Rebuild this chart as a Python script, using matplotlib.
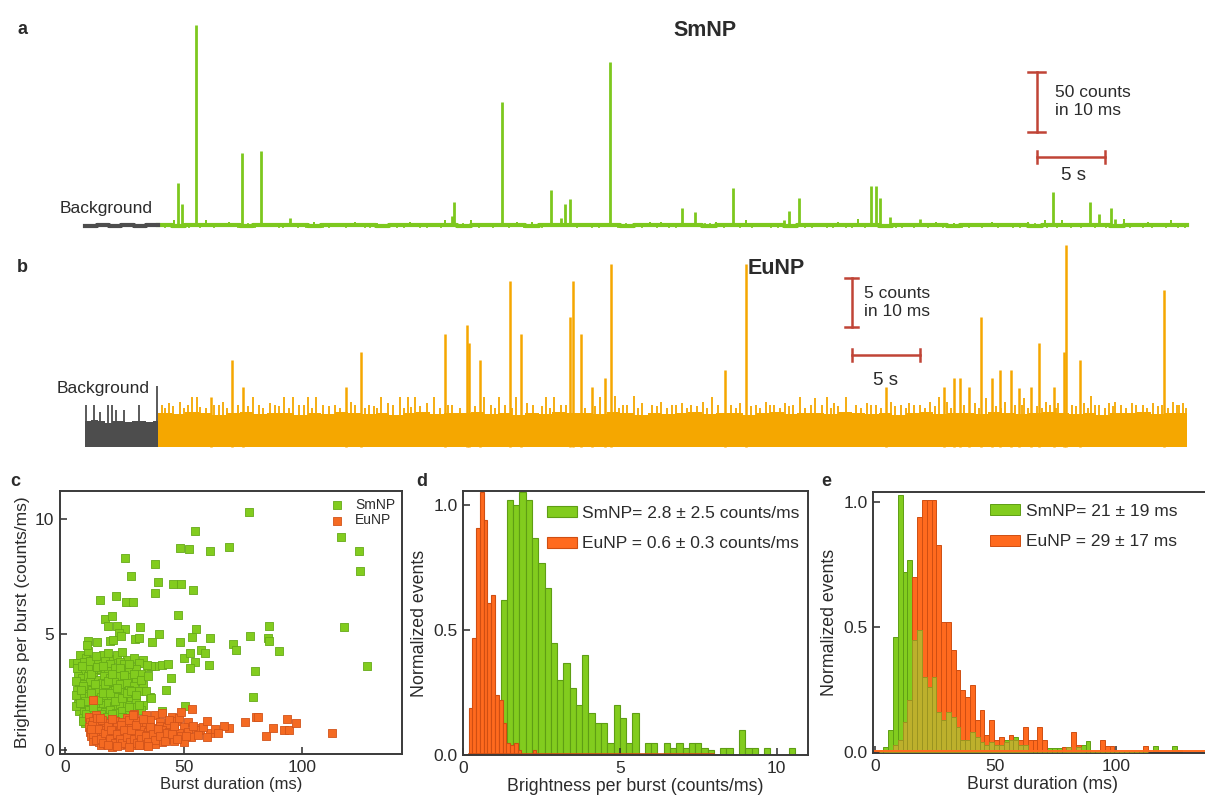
import matplotlib.pyplot as plt
import numpy as np

plt.rcParams['font.family'] = ['Liberation Sans', 'DejaVu Sans']
plt.rcParams['text.color'] = '#2b2b2b'
plt.rcParams['axes.labelcolor'] = '#2b2b2b'
plt.rcParams['xtick.color'] = '#2b2b2b'
plt.rcParams['ytick.color'] = '#2b2b2b'

TR_GREEN = '#7dc81e'
TR_ORANGE = '#f5a700'
BG_GRAY = '#4d4d4d'
BAR_RED = '#c04436'
SM = '#82cc1e'
SM_EDGE = '#5e9e14'
EU = '#ff6a1e'
EU_EDGE = '#cf4e12'
OLIVE = '#bdb02c'
OLIVE_EDGE = '#9a9420'

# ---------------- data ----------------
# a: SmNP trace, time (s) vs counts per 10 ms
sm_bg_t = [-5.4, -4.5, -3.6, -2.7, -1.8, -0.9, 0.0]
sm_bg_c = [3.5, 4, 3.5, 4, 3.5, 4, 4]
sm_base_t = list(range(0, 76)) + [75.7]
sm_base_c = [4, 3.5, 4, 4.5, 4, 4, 3.5, 4, 4.5, 4, 4, 3.5, 4, 4, 4.5, 4, 3.5, 4, 4, 4.5,
             4, 4, 3.5, 4.5, 4, 4, 4, 3.5, 4, 4.5, 4, 4, 4.5, 4, 3.5, 4, 4, 4, 4.5, 4,
             3.5, 4, 4, 4.5, 4, 4, 3.5, 4, 4, 4.5, 4, 4, 4, 3.5, 4.5, 4, 4, 4, 3.5, 4,
             4, 4.5, 4, 4, 3.5, 4, 4, 4.5, 4, 4, 3.5, 4, 4, 4.5, 4, 4, 4]
sm_peaks = [(1.47, 39), (1.75, 22), (2.8, 171), (6.2, 64), (7.6, 66), (9.7, 10),
            (21.6, 12), (21.8, 23), (25.3, 107), (28.9, 33), (29.6, 10), (29.9, 22),
            (30.3, 26), (33.2, 140), (38.5, 18), (39.5, 15), (42.3, 35), (46.0, 8),
            (46.4, 16), (47.1, 27), (52.4, 37), (52.8, 37), (53.1, 27), (53.8, 11),
            (56.0, 9), (65.8, 32), (68.5, 23), (69.2, 13), (70.1, 18), (70.4, 9),
            (72.2, 6)]
sm_small = [(0.8, 6), (1.2, 8), (3.5, 8), (4.5, 6), (5.2, 7), (8.4, 6), (11.5, 7),
            (13.2, 6), (14.5, 7), (16.1, 6), (17.0, 6), (18.5, 7), (20.3, 6), (21.1, 8),
            (23.0, 8), (24.0, 6), (26.4, 7), (27.5, 7), (31.5, 6), (35.0, 6), (36.2, 7),
            (37.0, 7), (41.0, 7), (43.2, 8), (44.5, 6), (48.5, 6), (50.0, 7), (51.5, 9),
            (55.0, 6), (57.2, 7), (58.5, 6), (60.0, 6), (61.3, 7), (62.5, 6), (64.0, 7),
            (65.2, 8), (66.5, 8), (67.5, 6), (71.0, 9), (72.8, 7), (73.5, 6), (74.5, 8)]
sm_fuzz = [(0.5, 5.5), (1.9, 6), (2.3, 5.5), (3.1, 6), (4.1, 5.5), (5.9, 6), (6.6, 5.5),
           (7.1, 6), (8.9, 5.5), (9.2, 6), (10.3, 5.5), (10.9, 6), (12.1, 5.5), (12.6, 6),
           (13.8, 5.5), (15.2, 6), (15.6, 5.5), (17.6, 6), (18.1, 5.5), (19.3, 6), (19.8, 5.5),
           (20.8, 6), (22.4, 5.5), (23.6, 6), (24.6, 5.5), (25.8, 6), (26.9, 5.5), (28.2, 6),
           (30.8, 5.5), (31.9, 6), (32.4, 5.5), (33.8, 6), (34.4, 5.5), (35.6, 6), (36.7, 5.5),
           (37.6, 6), (38.1, 5.5), (40.2, 6), (40.6, 5.5), (41.6, 6), (42.8, 5.5), (43.7, 6),
           (45.1, 5.5), (45.6, 6), (47.6, 5.5), (48.1, 6), (49.2, 5.5), (49.6, 6), (50.6, 5.5),
           (51.0, 6), (52.0, 5.5), (54.3, 6), (54.7, 5.5), (55.6, 6), (56.6, 5.5), (57.7, 6),
           (59.1, 5.5), (59.6, 6), (60.6, 5.5), (61.8, 6), (62.9, 5.5), (63.4, 6), (64.5, 5.5),
           (65.4, 6), (66.1, 5.5), (67.1, 6), (67.9, 5.5), (68.9, 6), (69.7, 5.5), (71.5, 6),
           (72.4, 5.5), (73.1, 6), (74.1, 5.5), (75.0, 6), (75.5, 5.5)]

# b: EuNP trace
eu_bg_t = [-5.4, -4.9, -4.4, -3.9, -3.4, -2.9, -2.4, -1.9, -1.4, -0.9, -0.4, 0.0]
eu_bg_c = [2.6, 2.8, 2.6, 2.4, 2.6, 2.7, 2.5, 2.6, 2.6, 2.5, 2.6, 2.6]
eu_bg_spikes = [(-5.3, 4.3), (-4.7, 4.3), (-4.3, 3.6), (-3.7, 4.3), (-3.4, 4.3),
                (-3.1, 3.8), (-2.5, 3.8), (-1.4, 4.3), (-0.1, 6.2)]
eu_band_t = list(range(0, 76)) + [75.7]
eu_band_c = [3.5, 3.4, 3.6, 3.5, 3.3, 3.5, 3.6, 3.4, 3.5, 3.5, 3.3, 3.5, 3.4, 3.6,
             3.5, 3.4, 3.5, 3.3, 3.5, 3.6, 3.4, 3.5, 3.5, 3.6, 3.4, 3.5, 3.3, 3.5,
             3.4, 3.6, 3.5, 3.5, 3.4, 3.6, 3.5, 3.3, 3.5, 3.4, 3.5, 3.6, 3.4, 3.5,
             3.5, 3.3, 3.5, 3.6, 3.4, 3.5, 3.5, 3.4, 3.6, 3.5, 3.4, 3.5, 3.3, 3.5,
             3.6, 3.4, 3.5, 3.5, 3.4, 3.6, 3.5, 3.4, 3.5, 3.6, 3.5, 3.4, 3.5, 3.3,
             3.5, 3.5, 3.6, 3.4, 3.5, 3.5, 3.5]
eu_peaks = [(5.43, 8.9), (6.25, 6.15), (3.88, 5.1), (14.96, 9.7), (13.8, 6.15),
            (21.1, 11.5), (22.7, 12.4), (22.9, 10.6), (23.7, 8.9), (25.9, 16.9),
            (26.7, 11.5), (30.3, 13.3), (30.5, 16.9), (31.1, 11.5), (31.9, 6.1),
            (32.9, 7.0), (33.3, 18.7), (41.7, 7.9), (43.2, 18.7), (53.5, 6.15),
            (57.8, 6.1), (58.5, 7.0), (59.0, 7.0), (59.6, 6.1), (60.5, 13.3),
            (61.3, 7.0), (61.9, 7.9), (62.7, 7.9), (63.3, 6.0), (64.2, 6.1),
            (64.8, 10.6), (65.9, 6.15), (66.6, 9.7), (66.8, 20.6), (67.8, 8.9),
            (74.0, 16.0)]
eu_comb = [(0.3, 4.3), (0.8, 4.5), (1.6, 4.6), (2.5, 5.1), (2.9, 5.1), (4.5, 4.3),
           (4.8, 4.6), (5.9, 4.3), (7.0, 5.1), (7.4, 4.3), (8.2, 4.5), (8.6, 4.3),
           (9.3, 5.1), (9.9, 5.1), (10.4, 4.3), (11.0, 5.1), (11.6, 5.1), (12.1, 4.3),
           (13.0, 4.3), (14.2, 4.6), (15.5, 4.3), (16.4, 5.1), (16.9, 4.5), (17.8, 5.1),
           (18.4, 5.1), (18.9, 5.1), (19.8, 4.5), (20.3, 5.1), (21.6, 4.3), (24.0, 5.1),
           (24.5, 4.3), (25.1, 5.1), (26.3, 5.1), (27.1, 4.5), (27.6, 4.3), (28.5, 5.1),
           (29.1, 5.1), (29.6, 4.3), (32.5, 5.1), (33.6, 5.2), (34.5, 4.3), (35.0, 5.2),
           (35.6, 4.5), (36.3, 4.3), (37.0, 4.6), (37.8, 4.3), (38.5, 4.5), (39.2, 4.3),
           (40.1, 4.6), (40.7, 5.1), (42.1, 4.3), (42.8, 4.5), (44.0, 4.3), (44.7, 4.6),
           (45.3, 4.3), (46.1, 4.5), (46.7, 4.3), (47.2, 5.1), (48.3, 5.0), (48.8, 4.3),
           (49.2, 5.1), (49.7, 4.5), (50.6, 5.1), (51.3, 4.3), (52.1, 4.5), (52.8, 4.3),
           (53.9, 4.6), (54.6, 4.3), (55.2, 4.5), (56.0, 4.3), (56.8, 4.6), (57.4, 5.1),
           (58.0, 4.6), (60.1, 4.5), (60.9, 5.0), (62.3, 4.6), (63.0, 4.3), (63.7, 5.0),
           (65.3, 4.6), (66.2, 4.5), (67.2, 4.3), (68.1, 4.5), (68.6, 5.2), (69.2, 4.3),
           (69.9, 4.5), (70.4, 4.6), (70.8, 4.3), (71.6, 4.5), (72.4, 4.3), (73.2, 4.5),
           (73.8, 4.3), (74.6, 4.6), (74.9, 4.3), (75.4, 4.5)]
eu_comb2 = [(0.5, 4.0), (1.1, 4.2), (1.9, 4.0), (2.2, 4.3), (3.1, 4.1), (3.5, 4.0), (4.1, 4.3),
            (5.1, 4.0), (6.6, 4.2), (7.7, 4.0), (8.9, 4.2), (9.6, 4.0), (10.7, 4.3), (11.3, 4.0),
            (12.6, 4.2), (13.4, 4.0), (14.5, 4.3), (15.2, 4.0), (15.9, 4.2), (16.1, 4.0),
            (17.3, 4.3), (18.1, 4.0), (18.6, 4.1), (19.3, 4.2), (20.7, 4.0), (21.3, 4.3),
            (22.2, 4.0), (23.3, 4.2), (24.8, 4.0), (25.5, 4.3), (26.0, 4.0), (28.2, 4.2),
            (28.8, 4.0), (30.0, 4.3), (31.4, 4.0), (32.1, 4.2), (33.9, 4.0), (34.2, 4.3),
            (35.3, 4.0), (36.7, 4.2), (37.4, 4.0), (38.1, 4.3), (38.9, 4.0), (39.6, 4.2),
            (40.4, 4.0), (41.2, 4.3), (42.5, 4.0), (43.6, 4.2), (44.3, 4.0), (45.0, 4.3),
            (45.7, 4.0), (46.4, 4.2), (47.6, 4.0), (48.0, 4.3), (49.5, 4.0), (50.0, 4.2),
            (51.7, 4.0), (52.4, 4.3), (53.2, 4.0), (54.2, 4.2), (55.0, 4.0), (55.6, 4.3),
            (56.4, 4.0), (57.1, 4.2), (58.3, 4.0), (59.3, 4.3), (60.4, 4.0), (61.6, 4.2),
            (62.0, 4.0), (63.5, 4.3), (64.0, 4.0), (64.6, 4.2), (65.0, 4.0), (65.6, 4.3),
            (66.0, 4.0), (67.5, 4.2), (68.4, 4.0), (68.9, 4.3), (69.6, 4.0), (70.2, 4.2),
            (71.2, 4.0), (71.9, 4.3), (72.7, 4.0), (73.5, 4.2), (74.3, 4.0), (75.1, 4.3),
            (75.6, 4.0)]

# c: burst duration (ms) vs brightness (counts/ms)
sm_scatter = [
    (6.5, 4.1), (9, 4.0), (12, 3.9), (16, 4.1), (20, 3.95), (22, 4.1), (26, 3.9), (29, 4.0), (33, 3.9),
    (3.5, 3.75), (5, 3.78), (8, 3.8), (11, 3.7), (14, 3.75), (17, 3.85), (19, 3.7), (23, 3.8),
    (25, 3.7), (28, 3.6), (31, 3.75), (35, 3.6), (38, 3.65),
    (6, 3.5), (8.5, 3.4), (10, 3.55), (13, 3.45), (15, 3.5), (18, 3.4), (21, 3.55), (24, 3.45),
    (27, 3.4), (30, 3.5), (32, 3.3),
    (5.5, 3.2), (7, 3.1), (9.5, 3.2), (12, 3.15), (14, 3.05), (16.5, 3.2), (19, 3.1), (22, 3.2),
    (25, 3.05), (28, 3.15), (30, 3.0),
    (6, 2.9), (8, 2.85), (10.5, 2.95), (13, 2.8), (15.5, 2.9), (18, 2.8), (20.5, 2.95), (23, 2.85),
    (26, 2.9), (29, 2.75), (33, 2.8),
    (5, 2.6), (7.5, 2.55), (9, 2.65), (11.5, 2.6), (14, 2.5), (16, 2.65), (18.5, 2.55), (21, 2.6),
    (24, 2.5), (27, 2.6), (31, 2.55), (36, 2.3),
    (6, 2.3), (8, 2.25), (10, 2.35), (12.5, 2.2), (15, 2.3), (17, 2.4), (19.5, 2.25), (22, 2.3),
    (25, 2.2), (28, 2.3), (30, 2.1),
    (5.5, 2.0), (7, 1.95), (9.5, 2.05), (11, 1.9), (13.5, 2.0), (16, 1.95), (18, 2.05), (20.5, 1.9),
    (23, 2.0), (26, 1.95), (29, 1.85), (33, 1.95),
    (6, 1.7), (8, 1.65), (10, 1.75), (12, 1.6), (14.5, 1.7), (17, 1.65), (19, 1.75), (21.5, 1.6),
    (24, 1.7), (27, 1.6), (32, 1.75),
    (7.5, 1.4), (9, 1.35), (11, 1.45), (13, 1.3), (15.5, 1.4), (18, 1.35), (20, 1.45), (23, 1.3),
    (25.5, 1.4), (8.5, 1.15), (12, 1.1), (16, 1.2), (19, 1.1), (22, 1.15),
    (4.5, 3.0), (4.5, 2.4), (4.8, 1.9), (5.2, 3.55), (7, 3.65), (7.5, 2.75), (8.5, 2.1), (9, 1.55),
    (10.5, 3.85), (11, 3.3), (11, 2.45), (12, 1.85), (12.5, 2.85), (13.5, 3.6), (14, 2.15),
    (15, 1.55), (16, 2.45), (16, 3.65), (17, 2.85), (17.5, 1.45), (18, 3.0), (19, 2.45), (20, 3.3),
    (20, 1.55), (21, 2.1), (22, 2.7), (23, 3.55), (24, 2.25), (24, 1.45), (25, 3.25), (26, 2.45),
    (27, 1.85), (27, 3.7), (28, 2.55), (29, 3.3), (30, 2.4), (31, 1.95), (32, 3.05), (34, 2.55),
    (35, 3.2), (13, 4.05), (18, 4.2), (24, 4.25), (9.5, 4.3), (7.5, 1.25), (10, 1.2), (14, 1.2),
    (6.5, 2.05), (6.8, 2.6), (19.5, 1.25),
    (77.5, 10.3), (54.6, 9.48), (48.3, 8.73), (52.1, 8.7), (61.2, 8.61), (69.0, 8.8), (25.2, 8.3),
    (37.8, 8.03), (28.0, 7.52), (39.2, 7.28), (45.5, 7.2), (48.7, 7.16), (53.9, 6.9), (37.8, 6.8),
    (14.7, 6.49), (21.7, 6.64), (25.6, 6.39), (28.7, 6.39), (47.6, 5.82), (16.9, 5.67), (19.6, 5.8),
    (18.2, 5.38), (22.0, 5.38), (25.2, 5.22), (22.7, 5.05), (23.8, 4.93), (31.5, 5.34), (9.8, 4.73),
    (9.1, 4.55), (13.3, 4.66), (18.9, 4.72), (20.3, 4.76), (29.6, 4.79), (31.3, 4.83), (39.5, 5.0),
    (36.8, 4.66), (48.3, 4.66), (53.6, 4.89), (55.2, 5.22), (61.2, 4.86), (70.7, 4.57), (72.1, 4.33),
    (78.0, 4.91), (85.9, 5.37), (85.5, 4.86), (85.9, 4.73), (90.0, 4.3), (50.1, 4.0), (52.5, 4.21),
    (57.4, 4.33), (59.2, 4.21), (54.9, 3.79), (52.5, 3.53), (60.6, 3.68), (80.0, 3.42), (79.1, 2.31),
    (116.2, 9.19), (124.0, 8.61), (124.2, 7.76), (117.4, 5.31), (127.4, 3.64), (50.5, 1.9),
    (42.7, 2.6), (40.9, 3.69), (43.4, 3.71), (44.8, 3.1), (36.2, 2.24), (36.4, 3.64), (34.7, 3.68),
    (41.0, 1.7)]
eu_scatter = [
    (10, 1.45), (13, 1.5), (26, 1.4), (29, 1.55), (34, 1.5), (38, 1.5), (41, 1.6), (45, 1.45),
    (10.5, 1.2), (12, 1.25), (15, 1.2), (18, 1.15), (21, 1.25), (24, 1.2), (27, 1.15), (30, 1.25),
    (33, 1.2), (36, 1.3), (40, 1.2), (44, 1.15), (47, 1.25), (52, 1.2),
    (10, 1.0), (12.5, 0.95), (14, 1.05), (16.5, 1.0), (19, 0.95), (22, 1.05), (25, 1.0), (28, 0.95),
    (31, 1.05), (34, 1.0), (37, 0.95), (40, 1.05), (43, 1.0), (46, 0.9), (50, 1.0), (55, 0.95),
    (10.5, 0.8), (13, 0.75), (15.5, 0.85), (18, 0.8), (20.5, 0.75), (23, 0.85), (26, 0.8), (29, 0.75),
    (32, 0.85), (35, 0.8), (38, 0.75), (41, 0.85), (44, 0.8), (48, 0.75), (52, 0.8), (57, 0.85),
    (61, 0.75),
    (11, 0.6), (13.5, 0.55), (16, 0.65), (18.5, 0.6), (21, 0.55), (24, 0.65), (27, 0.6), (30, 0.55),
    (33, 0.65), (36, 0.6), (39, 0.55), (42, 0.6), (45, 0.5), (49, 0.6), (53, 0.55),
    (12, 0.4), (14.5, 0.35), (17, 0.45), (19.5, 0.4), (22, 0.35), (25, 0.45), (28, 0.4), (31, 0.35),
    (34, 0.45), (37, 0.4), (41, 0.35), (46, 0.4), (50, 0.35),
    (15, 0.2), (17.5, 0.25), (20, 0.15), (23, 0.2), (26, 0.25), (29, 0.2), (33, 0.2), (38, 0.25),
    (11.5, 1.1), (12, 0.7), (13, 0.45), (14, 0.9), (15, 0.5), (15.5, 1.3), (16, 0.3), (17, 0.75),
    (18, 1.05), (19, 0.5), (19.5, 0.85), (20, 1.35), (21, 0.3), (22, 0.7), (23, 0.5), (23.5, 1.1),
    (24, 0.3), (25, 0.85), (26, 0.55), (27, 1.3), (27.5, 0.35), (28, 0.85), (29, 0.5), (30, 1.1),
    (30.5, 0.3), (31, 0.7), (32, 0.5), (33, 1.35), (34, 0.6), (35, 0.35), (36, 1.0), (37, 0.7),
    (38, 0.45), (39, 0.9), (40, 0.6), (42, 0.4), (43, 0.75), (44, 1.3), (45, 0.7), (46, 1.05),
    (47, 0.5), (48, 1.4), (51, 0.6), (54, 1.05), (56, 0.65), (58, 1.0), (60, 0.55), (63, 0.9),
    (18, 0.2), (22, 0.18), (27, 0.15), (31, 0.2), (35, 0.18), (13.5, 1.4), (11, 0.9),
    (11.9, 2.16), (75.9, 1.2), (80.5, 1.41), (81.2, 1.44), (87.5, 0.94), (84.7, 0.62), (93.4, 1.33),
    (92.4, 0.87), (94.5, 0.87), (97.3, 1.15), (112.7, 0.75), (69.0, 0.94), (66.8, 1.04), (64.4, 0.72),
    (59.8, 1.27), (53.6, 1.76), (49.0, 1.66), (28.7, 1.5), (14.7, 1.37)]

# d: brightness histograms (normalized)
sm_bright_start, sm_bright_w = 1.2, 0.2
sm_bright_h = [0.62, 1.02, 1.00, 1.05, 1.02, 0.87, 0.77, 0.67, 0.45, 0.30, 0.37, 0.27, 0.20,
               0.40, 0.17, 0.13, 0.13, 0.05, 0.20, 0.15, 0.05, 0.17, 0.0, 0.05, 0.05, 0.0,
               0.05, 0.03, 0.05, 0.03, 0.05, 0.05, 0.03, 0.02, 0.0, 0.03, 0.03, 0.0, 0.10,
               0.03, 0.03, 0.0, 0.03, 0.0, 0.0, 0.0, 0.03]
eu_bright_start, eu_bright_w = 0.18, 0.12
eu_bright_h = [0.19, 0.47, 0.91, 1.05, 0.94, 0.61, 0.64, 0.24, 0.22, 0.13, 0.05, 0.04,
               0.05, 0.02, 0.0, 0.0, 0.0, 0.02]

# e: duration histograms (normalized), 2 ms bins from 1.5 ms
dur_start, dur_w = 1.5, 2.0
sm_dur_h = [0.01, 0.02, 0.09, 0.46, 1.03, 0.72, 0.77, 0.45, 0.49, 0.30, 0.26, 0.30, 0.16,
            0.13, 0.16, 0.14, 0.10, 0.05, 0.05, 0.08, 0.06, 0.04, 0.03, 0.04, 0.03, 0.03,
            0.05, 0.05, 0.06, 0.03, 0.03, 0.0, 0.0, 0.0, 0.0, 0.015, 0.015, 0.015, 0.0,
            0.02, 0.0, 0.02, 0.03, 0.045, 0.0, 0.0, 0.0, 0.0, 0.0, 0.0, 0.0, 0.0, 0.0,
            0.0, 0.0, 0.0, 0.0, 0.025, 0.0, 0.0, 0.0, 0.025, 0.01]
eu_dur_h = [0.0, 0.0, 0.01, 0.03, 0.05, 0.12, 0.21, 0.70, 0.94, 1.01, 1.01, 1.01, 0.83,
            0.52, 0.52, 0.41, 0.33, 0.25, 0.22, 0.27, 0.13, 0.17, 0.07, 0.13, 0.05, 0.06,
            0.04, 0.07, 0.05, 0.05, 0.10, 0.05, 0.05, 0.10, 0.05, 0.0, 0.0, 0.0, 0.02,
            0.02, 0.08, 0.03, 0.0, 0.0, 0.0, 0.0, 0.05, 0.025, 0.025, 0.0, 0.0, 0.0, 0.0,
            0.0, 0.0, 0.025]

# ---------------- figure ----------------
W, H = 1205, 800
fig = plt.figure(figsize=(W / 100, H / 100), dpi=100)


def box(l, t, r, b):
    return [l / W, 1 - b / H, (r - l) / W, (b - t) / H]


def ptext(x, y, s, **kw):
    fig.text(x / W, 1 - y / H, s, **kw)


# ---- a
ax_a = fig.add_axes(box(60, 10, 1200, 240))
ax_a.set_xlim(-7.206, 76.62)
ax_a.set_ylim(-8.33, 183.3)
ax_a.axis('off')
pt, pc = zip(*sm_peaks)
ax_a.vlines(pt, 3, pc, color=TR_GREEN, lw=2.0)
pt, pc = zip(*sm_small)
ax_a.vlines(pt, 3, pc, color=TR_GREEN, lw=1.4)
pt, pc = zip(*sm_fuzz)
ax_a.vlines(pt, 2, pc, color=TR_GREEN, lw=1.2)
ax_a.step(sm_base_t, sm_base_c, where='post', color=TR_GREEN, lw=3.0)
ax_a.step(sm_bg_t, sm_bg_c, where='post', color=BG_GRAY, lw=3.0)
# scale bars
ax_a.plot([64.6, 64.6], [81.7, 131.7], color=BAR_RED, lw=1.8)
ax_a.plot([64.0, 65.2], [81.7, 81.7], color=BAR_RED, lw=1.8)
ax_a.plot([64.0, 65.2], [131.7, 131.7], color=BAR_RED, lw=1.8)
ax_a.plot([64.6, 69.6], [60.8, 60.8], color=BAR_RED, lw=1.8)
ax_a.plot([64.6, 64.6], [55.8, 65.8], color=BAR_RED, lw=1.8)
ax_a.plot([69.6, 69.6], [55.8, 65.8], color=BAR_RED, lw=1.8)
ax_a.text(65.96, 106.7, '50 counts\nin 10 ms', fontsize=12.5, va='center', ha='left',
          linespacing=1.25)
ax_a.text(67.3, 45.8, '5 s', fontsize=13.5, va='center', ha='center')

# ---- b
ax_b = fig.add_axes(box(60, 240, 1200, 460))
ax_b.set_xlim(-7.206, 76.62)
ax_b.set_ylim(-1.33, 21.12)
ax_b.axis('off')
ax_b.fill_between(eu_band_t, 0, eu_band_c, step='post', color=TR_ORANGE, lw=0)
pt, pc = zip(*eu_comb2)
ax_b.vlines(pt, 0, pc, color=TR_ORANGE, lw=1.3)
pt, pc = zip(*eu_comb)
ax_b.vlines(pt, 0, pc, color=TR_ORANGE, lw=1.3)
pt, pc = zip(*eu_peaks)
ax_b.vlines(pt, 0, pc, color=TR_ORANGE, lw=1.8)
ax_b.fill_between(eu_bg_t, 0, eu_bg_c, step='post', color=BG_GRAY, lw=0)
pt, pc = zip(*eu_bg_spikes)
ax_b.vlines(pt, 0, pc, color=BG_GRAY, lw=1.3)
ax_b.plot([51.0, 51.0], [12.2, 17.2], color=BAR_RED, lw=1.8)
ax_b.plot([50.55, 51.45], [12.2, 12.2], color=BAR_RED, lw=1.8)
ax_b.plot([50.55, 51.45], [17.2, 17.2], color=BAR_RED, lw=1.8)
ax_b.plot([51.0, 56.0], [9.4, 9.4], color=BAR_RED, lw=1.8)
ax_b.plot([51.0, 51.0], [8.8, 10.0], color=BAR_RED, lw=1.8)
ax_b.plot([56.0, 56.0], [8.8, 10.0], color=BAR_RED, lw=1.8)
ax_b.text(51.9, 14.7, '5 counts\nin 10 ms', fontsize=12.5, va='center', ha='left',
          linespacing=1.25)
ax_b.text(53.5, 6.8, '5 s', fontsize=13.5, va='center', ha='center')

ptext(705, 30, 'SmNP', fontsize=15.5, fontweight='bold', ha='center', va='center')
ptext(776, 268, 'EuNP', fontsize=15.5, fontweight='bold', ha='center', va='center')
ptext(153, 208, 'Background', fontsize=12.5, ha='right', va='center')
ptext(150, 388, 'Background', fontsize=12.5, ha='right', va='center')

for lab, x, y in [('a', 22, 30), ('b', 22, 268), ('c', 15, 482), ('d', 422, 482), ('e', 826, 482)]:
    ptext(x, y, lab, fontsize=13, fontweight='bold', ha='center', va='center')


def style(ax):
    for s in ax.spines.values():
        s.set_linewidth(1.4)
        s.set_color('#3a3a3a')
    ax.tick_params(direction='in', length=5, width=1.1, labelsize=12.5, pad=4,
                   top=False, right=False)


# ---- c
ax_c = fig.add_axes(box(60, 491, 402, 754))
style(ax_c)
x, y = zip(*sm_scatter)
ax_c.scatter(x, y, marker='s', s=32, c=SM, edgecolors='#66aa18', linewidths=0.6,
             label='SmNP', zorder=2)
x, y = zip(*eu_scatter)
ax_c.scatter(x, y, marker='s', s=32, c='#f46a22', edgecolors='#d2541a', linewidths=0.6,
             label='EuNP', zorder=3)
ax_c.set_xlim(-2.1, 142)
ax_c.set_ylim(-0.17, 11.2)
ax_c.set_xticks([0, 50, 100])
ax_c.set_yticks([0, 5, 10])
ax_c.set_xlabel('Burst duration (ms)', fontsize=12, labelpad=2)
ax_c.set_ylabel('Brightness per burst (counts/ms)', fontsize=12.5, labelpad=4)
ax_c.legend(loc='upper right', frameon=False, fontsize=10, handletextpad=0.3,
            borderaxespad=0.1, labelspacing=0.1, markerscale=1.1)

# ---- d
ax_d = fig.add_axes(box(463, 491, 808, 755))
style(ax_d)
lefts = sm_bright_start + sm_bright_w * np.arange(len(sm_bright_h))
ax_d.bar(lefts, sm_bright_h, width=sm_bright_w, align='edge', color=SM,
         edgecolor=SM_EDGE, lw=0.8, label='SmNP= 2.8 ± 2.5 counts/ms')
lefts = eu_bright_start + eu_bright_w * np.arange(len(eu_bright_h))
ax_d.bar(lefts, eu_bright_h, width=eu_bright_w, align='edge', color=EU,
         edgecolor=EU_EDGE, lw=0.8, label='EuNP = 0.6 ± 0.3 counts/ms')
ax_d.plot([0.2, 8.0], [0.004, 0.004], color=EU_EDGE, lw=1.2)
ax_d.set_xlim(0, 11.0)
ax_d.set_ylim(0, 1.056)
ax_d.set_xticks([0, 5, 10])
ax_d.set_yticks([0, 0.5, 1.0])
ax_d.set_yticklabels(['0.0', '0.5', '1.0'])
ax_d.set_xlabel('Brightness per burst (counts/ms)', fontsize=12.8, labelpad=2)
ax_d.set_ylabel('Normalized events', fontsize=12.8, labelpad=4)
ax_d.legend(loc='upper left', bbox_to_anchor=(0.243, 0.945), frameon=False, fontsize=12.5,
            handlelength=1.75, handleheight=0.6, handletextpad=0.25, labelspacing=0.9,
            borderpad=0, borderaxespad=0)

# ---- e
ax_e = fig.add_axes(box(873, 492, 1212, 753))
style(ax_e)
lefts = dur_start + dur_w * np.arange(len(sm_dur_h))
ax_e.bar(lefts, sm_dur_h, width=dur_w, align='edge', color=SM, edgecolor=SM_EDGE,
         lw=0.7, label='SmNP= 21 ± 19 ms', zorder=2)
lefts_eu = dur_start + dur_w * np.arange(len(eu_dur_h))
ax_e.bar(lefts_eu, eu_dur_h, width=dur_w, align='edge', color=EU, edgecolor=EU_EDGE,
         lw=0.7, label='EuNP = 29 ± 17 ms', zorder=2)
n = min(len(sm_dur_h), len(eu_dur_h))
both = np.minimum(sm_dur_h[:n], eu_dur_h[:n])
ax_e.bar(lefts[:n], both, width=dur_w, align='edge', color=OLIVE, edgecolor=OLIVE_EDGE,
         lw=0.7, zorder=3)
ax_e.plot([0, 140], [0.003, 0.003], color=EU, lw=1.4, zorder=4)
ax_e.set_xlim(-0.8, 140)
ax_e.set_ylim(-0.004, 1.04)
ax_e.set_xticks([0, 50, 100])
ax_e.set_yticks([0, 0.5, 1.0])
ax_e.set_yticklabels(['0.0', '0.5', '1.0'])
ax_e.set_xlabel('Burst duration (ms)', fontsize=12.8, labelpad=2)
ax_e.set_ylabel('Normalized events', fontsize=12.8, labelpad=4)
ax_e.legend(loc='upper left', bbox_to_anchor=(0.345, 0.955), frameon=False, fontsize=12.5,
            handlelength=1.75, handleheight=0.6, handletextpad=0.3, labelspacing=0.9,
            borderpad=0, borderaxespad=0)

fig.savefig('out.png', dpi=100, facecolor='white')
